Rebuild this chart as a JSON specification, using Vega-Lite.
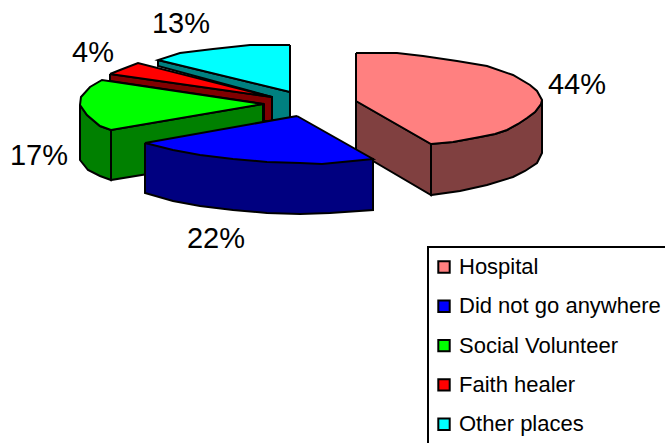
{
"$schema":"https://vega.github.io/schema/vega-lite/v6.json",
"width":665,"height":443,"padding":0,"autosize":{"type":"none"},
"background":"white",
"config":{"view":{"stroke":null},"font":"Liberation Sans","legend":{"strokeWidth":2}},
"datasets":{
"sides":[
{"face":"c1","shade":"Other places","i":0,"x":158,"y":60},{"face":"c1","shade":"Other places","i":1,"x":290,"y":92},{"face":"c1","shade":"Other places","i":2,"x":290,"y":120},{"face":"c1","shade":"Other places","i":3,"x":272,"y":120},{"face":"c1","shade":"Other places","i":4,"x":272,"y":97},{"face":"c1","shade":"Other places","i":5,"x":158,"y":66},{"face":"c1","shade":"Other places","i":6,"x":158,"y":60},
{"face":"r1","shade":"Faith healer","i":0,"x":110,"y":74},{"face":"r1","shade":"Faith healer","i":1,"x":272,"y":97},{"face":"r1","shade":"Faith healer","i":2,"x":272,"y":121},{"face":"r1","shade":"Faith healer","i":3,"x":264,"y":121},{"face":"r1","shade":"Faith healer","i":4,"x":264,"y":104},{"face":"r1","shade":"Faith healer","i":5,"x":110,"y":81},{"face":"r1","shade":"Faith healer","i":6,"x":110,"y":74},
{"face":"g1","shade":"Social Volunteer","i":0,"x":111,"y":130},{"face":"g1","shade":"Social Volunteer","i":1,"x":263,"y":104},{"face":"g1","shade":"Social Volunteer","i":2,"x":263,"y":155},{"face":"g1","shade":"Social Volunteer","i":3,"x":111,"y":180},{"face":"g1","shade":"Social Volunteer","i":4,"x":111,"y":130},
{"face":"g2","shade":"Social Volunteer","i":0,"x":80,"y":105},{"face":"g2","shade":"Social Volunteer","i":1,"x":87,"y":115},{"face":"g2","shade":"Social Volunteer","i":2,"x":100,"y":126},{"face":"g2","shade":"Social Volunteer","i":3,"x":111,"y":130},{"face":"g2","shade":"Social Volunteer","i":4,"x":111,"y":180},{"face":"g2","shade":"Social Volunteer","i":5,"x":100,"y":176},{"face":"g2","shade":"Social Volunteer","i":6,"x":88,"y":170},{"face":"g2","shade":"Social Volunteer","i":7,"x":80,"y":160},{"face":"g2","shade":"Social Volunteer","i":8,"x":80,"y":105},
{"face":"h1","shade":"Hospital","i":0,"x":356,"y":101},{"face":"h1","shade":"Hospital","i":1,"x":431,"y":144},{"face":"h1","shade":"Hospital","i":2,"x":431,"y":195},{"face":"h1","shade":"Hospital","i":3,"x":356,"y":151},{"face":"h1","shade":"Hospital","i":4,"x":356,"y":101},
{"face":"h2","shade":"Hospital","i":0,"x":431,"y":144},{"face":"h2","shade":"Hospital","i":1,"x":453,"y":142},{"face":"h2","shade":"Hospital","i":2,"x":480,"y":137},{"face":"h2","shade":"Hospital","i":3,"x":495,"y":134},{"face":"h2","shade":"Hospital","i":4,"x":507,"y":130},{"face":"h2","shade":"Hospital","i":5,"x":518,"y":124},{"face":"h2","shade":"Hospital","i":6,"x":527,"y":118},{"face":"h2","shade":"Hospital","i":7,"x":535,"y":112},{"face":"h2","shade":"Hospital","i":8,"x":541,"y":104},{"face":"h2","shade":"Hospital","i":9,"x":542,"y":100},{"face":"h2","shade":"Hospital","i":10,"x":542,"y":153},{"face":"h2","shade":"Hospital","i":11,"x":537,"y":163},{"face":"h2","shade":"Hospital","i":12,"x":525,"y":171},{"face":"h2","shade":"Hospital","i":13,"x":513,"y":177},{"face":"h2","shade":"Hospital","i":14,"x":487,"y":185},{"face":"h2","shade":"Hospital","i":15,"x":460,"y":191},{"face":"h2","shade":"Hospital","i":16,"x":431,"y":195},{"face":"h2","shade":"Hospital","i":17,"x":431,"y":144},
{"face":"b1","shade":"Did not go anywhere","i":0,"x":145,"y":143},{"face":"b1","shade":"Did not go anywhere","i":1,"x":373,"y":159},{"face":"b1","shade":"Did not go anywhere","i":2,"x":373,"y":210},{"face":"b1","shade":"Did not go anywhere","i":3,"x":330,"y":213},{"face":"b1","shade":"Did not go anywhere","i":4,"x":300,"y":214},{"face":"b1","shade":"Did not go anywhere","i":5,"x":267,"y":213},{"face":"b1","shade":"Did not go anywhere","i":6,"x":233,"y":210},{"face":"b1","shade":"Did not go anywhere","i":7,"x":200,"y":206},{"face":"b1","shade":"Did not go anywhere","i":8,"x":173,"y":201},{"face":"b1","shade":"Did not go anywhere","i":9,"x":145,"y":193},{"face":"b1","shade":"Did not go anywhere","i":10,"x":145,"y":143}
],
"tops":[
{"slice":"Other places","i":0,"x":290,"y":45},{"slice":"Other places","i":1,"x":250,"y":45},{"slice":"Other places","i":2,"x":213,"y":49},{"slice":"Other places","i":3,"x":180,"y":53},{"slice":"Other places","i":4,"x":158,"y":60},{"slice":"Other places","i":5,"x":290,"y":92},{"slice":"Other places","i":6,"x":290,"y":45},
{"slice":"Faith healer","i":0,"x":110,"y":74},{"slice":"Faith healer","i":1,"x":120,"y":70},{"slice":"Faith healer","i":2,"x":138,"y":63},{"slice":"Faith healer","i":3,"x":272,"y":97},{"slice":"Faith healer","i":4,"x":110,"y":74},
{"slice":"Social Volunteer","i":0,"x":263,"y":104},{"slice":"Social Volunteer","i":1,"x":111,"y":130},{"slice":"Social Volunteer","i":2,"x":100,"y":126},{"slice":"Social Volunteer","i":3,"x":87,"y":115},{"slice":"Social Volunteer","i":4,"x":80,"y":105},{"slice":"Social Volunteer","i":5,"x":81,"y":97},{"slice":"Social Volunteer","i":6,"x":90,"y":87},{"slice":"Social Volunteer","i":7,"x":102,"y":80},{"slice":"Social Volunteer","i":8,"x":263,"y":104},
{"slice":"Hospital","i":0,"x":356,"y":53},{"slice":"Hospital","i":1,"x":397,"y":53},{"slice":"Hospital","i":2,"x":423,"y":56},{"slice":"Hospital","i":3,"x":457,"y":61},{"slice":"Hospital","i":4,"x":487,"y":66},{"slice":"Hospital","i":5,"x":513,"y":75},{"slice":"Hospital","i":6,"x":530,"y":85},{"slice":"Hospital","i":7,"x":537,"y":91},{"slice":"Hospital","i":8,"x":542,"y":100},{"slice":"Hospital","i":9,"x":541,"y":104},{"slice":"Hospital","i":10,"x":535,"y":112},{"slice":"Hospital","i":11,"x":527,"y":118},{"slice":"Hospital","i":12,"x":518,"y":124},{"slice":"Hospital","i":13,"x":507,"y":130},{"slice":"Hospital","i":14,"x":495,"y":134},{"slice":"Hospital","i":15,"x":480,"y":137},{"slice":"Hospital","i":16,"x":453,"y":142},{"slice":"Hospital","i":17,"x":431,"y":144},{"slice":"Hospital","i":18,"x":356,"y":101},{"slice":"Hospital","i":19,"x":356,"y":53},
{"slice":"Did not go anywhere","i":0,"x":297,"y":116},{"slice":"Did not go anywhere","i":1,"x":373,"y":159},{"slice":"Did not go anywhere","i":2,"x":322,"y":164},{"slice":"Did not go anywhere","i":3,"x":300,"y":163},{"slice":"Did not go anywhere","i":4,"x":267,"y":162},{"slice":"Did not go anywhere","i":5,"x":233,"y":159},{"slice":"Did not go anywhere","i":6,"x":200,"y":155},{"slice":"Did not go anywhere","i":7,"x":173,"y":150},{"slice":"Did not go anywhere","i":8,"x":145,"y":143},{"slice":"Did not go anywhere","i":9,"x":297,"y":116}
],
"labels":[
{"slice":"Hospital","share":"44%","x":577,"y":85},
{"slice":"Did not go anywhere","share":"22%","x":216,"y":239},
{"slice":"Social Volunteer","share":"17%","x":39,"y":156},
{"slice":"Faith healer","share":"4%","x":93,"y":53},
{"slice":"Other places","share":"13%","x":181,"y":24}
]
},
"encoding":{
"x":{"field":"x","type":"quantitative","scale":{"domain":[0,665],"range":[0,665]},"axis":null},
"y":{"field":"y","type":"quantitative","scale":{"domain":[0,443],"range":[0,443]},"axis":null}
},
"layer":[
{"data":{"name":"sides"},
"mark":{"type":"line","filled":true,"stroke":"black","strokeWidth":2,"strokeJoin":"miter","clip":false},
"encoding":{
"detail":{"field":"face"},
"order":{"field":"i","type":"quantitative"},
"fill":{"field":"shade","type":"nominal","legend":null,"scale":{"domain":["Hospital","Did not go anywhere","Social Volunteer","Faith healer","Other places"],"range":["#804040","#000080","#008000","#800000","#008080"]}}
}},
{"data":{"name":"tops"},
"mark":{"type":"line","filled":true,"stroke":"black","strokeWidth":2,"strokeJoin":"miter","clip":false},
"encoding":{
"detail":{"field":"slice"},
"order":{"field":"i","type":"quantitative"},
"fill":{"field":"slice","type":"nominal","title":null,
"scale":{"domain":["Hospital","Did not go anywhere","Social Volunteer","Faith healer","Other places"],"range":["#FF8080","#0000FF","#00FF00","#FF0000","#00FFFF"]},
"legend":{"orient":"none","legendX":428,"legendY":247,"padding":9,"fillColor":"white","strokeColor":"black","symbolType":"square","symbolSize":130,"symbolOffset":-4,"symbolStrokeColor":"black","symbolStrokeWidth":2,"labelFont":"Liberation Sans","labelFontSize":22,"labelColor":"black","labelOffset":4,"labelLimit":300,"rowPadding":17.3,"symbolOpacity":1}}
}},
{"data":{"name":"labels"},
"mark":{"type":"text","font":"Liberation Sans","fontSize":29,"color":"black","align":"center","baseline":"middle"},
"encoding":{"text":{"field":"share","type":"nominal"}}}
],
"resolve":{"scale":{"fill":"independent"}}
}
